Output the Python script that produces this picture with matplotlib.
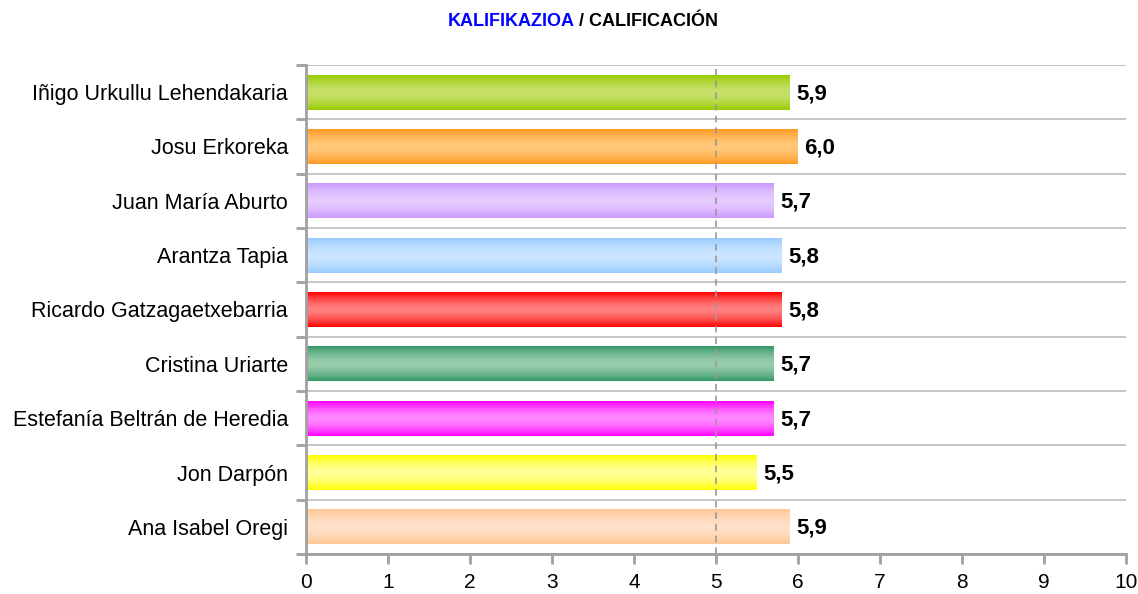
import matplotlib
matplotlib.use('Agg')
import matplotlib.pyplot as plt
import numpy as np
from matplotlib.colors import LinearSegmentedColormap

plt.rcParams['font.family'] = ['Liberation Sans', 'DejaVu Sans']

names = [
    'Iñigo Urkullu Lehendakaria',
    'Josu Erkoreka',
    'Juan María Aburto',
    'Arantza Tapia',
    'Ricardo Gatzagaetxebarria',
    'Cristina Uriarte',
    'Estefanía Beltrán de Heredia',
    'Jon Darpón',
    'Ana Isabel Oregi',
]
scores = [5.9, 6.0, 5.7, 5.8, 5.8, 5.7, 5.7, 5.5, 5.9]
score_labels = ['5,9', '6,0', '5,7', '5,8', '5,8', '5,7', '5,7', '5,5', '5,9']

# (edge colour, centre colour) for the shaded bars
edge_colors = ['#99CC00', '#FF9922', '#CC99FF', '#99CCFF', '#FF0000',
               '#339966', '#FF00FF', '#FFFF00', '#FFC896']
center_colors = ['#C6E06A', '#FFC878', '#E5CCFF', '#CCE5FF', '#FF8080',
                 '#99CCAA', '#FF88FF', '#FFFF99', '#FFE0C8']

fig = plt.figure(figsize=(11.38, 5.94), dpi=100)
ax = fig.add_axes([306 / 1138, 40 / 594, 820 / 1138, 489 / 594])

y = np.arange(len(names))
bars = ax.barh(y, scores, height=0.64, color='none', zorder=3)

# vertical gradient: dark at top and bottom, light in the middle
grad = np.abs(np.linspace(-1, 1, 64)).reshape(-1, 1)
grad = 1 - grad ** 1.6
for bar, ec, cc in zip(bars, edge_colors, center_colors):
    cmap = LinearSegmentedColormap.from_list('g', [ec, cc])
    x0, y0 = bar.get_x(), bar.get_y()
    w, h = bar.get_width(), bar.get_height()
    ax.imshow(grad, cmap=cmap, vmin=0, vmax=1, aspect='auto',
              extent=(x0, x0 + w, y0 + h, y0), zorder=3, interpolation='bicubic')

for yi, v, lab in zip(y, scores, score_labels):
    ax.text(v + 0.08, yi + 0.03, lab, va='center', ha='left', fontsize=16,
            fontweight='bold', color='black', zorder=4)

ax.set_xlim(0, 10)
ax.set_ylim(len(names) - 0.5, -0.5)
ax.set_xticks(range(0, 11))
ax.set_yticks(y)
ax.set_yticklabels(names)
ax.set_yticks(np.arange(-0.5, len(names)), minor=True)

ax.tick_params(axis='y', which='major', length=0, labelsize=15.5, pad=13)
ax.tick_params(axis='y', which='minor', length=7, width=2, color='#A0A0A0')
ax.tick_params(axis='x', length=7, width=2, color='#A0A0A0', labelsize=15, pad=7)

ax.grid(axis='y', which='minor', color='#BBBBBB', linewidth=1.2, zorder=1)
ax.axhline(-0.5, color='#EEEEEE', linewidth=1.2, zorder=1)
ax.axvline(5, color='#999999', linestyle=(0, (4, 3)), linewidth=1.2, zorder=5)

for side in ['top', 'right']:
    ax.spines[side].set_visible(False)
for side in ['left', 'bottom']:
    ax.spines[side].set_color('#A0A0A0')
    ax.spines[side].set_linewidth(2)
    ax.spines[side].set_zorder(6)

fig.text(575 / 1138, 1 - 22 / 594, 'KALIFIKAZIOA', color='#0000FF', fontsize=13,
         fontweight='bold', ha='right', va='center')
fig.text(579 / 1138, 1 - 22 / 594, '/ CALIFICACIÓN', color='black', fontsize=13,
         fontweight='bold', ha='left', va='center')

fig.savefig('out.png', dpi=100, facecolor='white')
